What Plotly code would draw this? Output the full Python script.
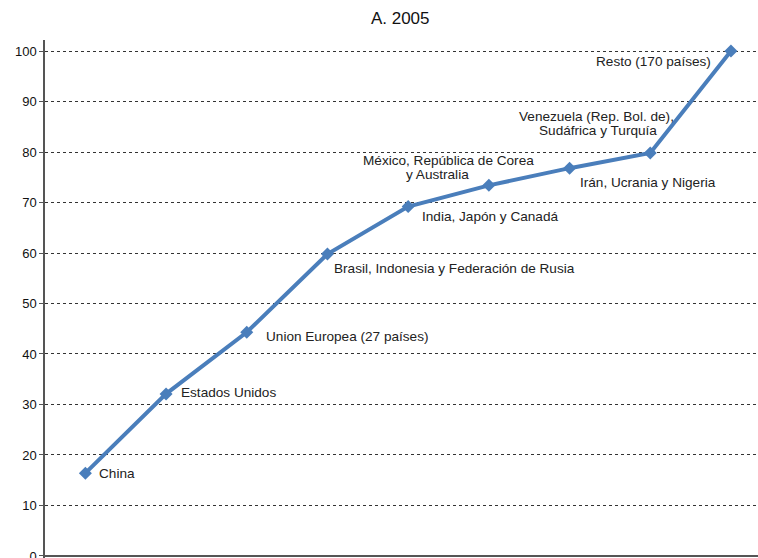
import plotly.graph_objects as go

categories = ["China", "Estados Unidos", "Union Europea (27 países)",
              "Brasil, Indonesia y Federación de Rusia", "India, Japón y Canadá",
              "México, República de Corea y Australia", "Irán, Ucrania y Nigeria",
              "Venezuela (Rep. Bol. de), Sudáfrica y Turquía", "Resto (170 países)"]
values = [16.4, 32.1, 44.3, 59.8, 69.2, 73.4, 76.8, 79.8, 100.0]
labels = ["China", "Estados Unidos", "Union Europea (27 países)",
          "Brasil, Indonesia y Federación de Rusia", "India, Japón y Canadá",
          "México, República de Corea<br>y Australia", "Irán, Ucrania y Nigeria",
          "Venezuela (Rep. Bol. de),<br>Sudáfrica y Turquía", "Resto (170 países)"]
y_ticks = [0, 10, 20, 30, 40, 50, 60, 70, 80, 90, 100]

# label placement per text line (anchor, pixel x offset, pixel y offset from the point)
label_pos = [
    [("left", 12, 0)], [("left", 13, 1)], [("left", 17, -4)], [("left", 5, -14)],
    [("left", 12, -10)], [("center", -40, 25), ("center", -51, 11)],
    [("left", 8, -14)], [("center", -54, 37), ("center", -52, 23)],
    [("right", -18, -10)],
]

FONT = "Liberation Sans, Arial, Helvetica, sans-serif"

fig = go.Figure()
fig.add_trace(go.Scatter(
    x=list(range(len(categories))), y=values, mode="lines+markers",
    line=dict(color="#4a7ebb", width=4),
    marker=dict(symbol="diamond", size=10, color="#4a7ebb"),
    cliponaxis=False, hoverinfo="skip",
))

for i, (lab, poss) in enumerate(zip(labels, label_pos)):
    for line, (anc, xs, ys) in zip(lab.split("<br>"), poss):
        fig.add_annotation(x=i, y=values[i], text=line, showarrow=False,
                           xanchor=anc, yanchor="middle", xshift=xs, yshift=ys,
                           align="center", font=dict(family=FONT, size=13.6, color="#222"))

fig.update_layout(
    width=758, height=558,
    margin=dict(l=45, r=0, t=40, b=0, autoexpand=False),
    paper_bgcolor="white", plot_bgcolor="white",
    showlegend=False,
    title=dict(text="A. 2005", x=0.528, xanchor="center", y=0.968, yanchor="middle",
               font=dict(family=FONT, size=17, color="#111")),
    xaxis=dict(range=[-0.5, 8.335], showgrid=False, showticklabels=False,
               zeroline=False, showline=False, ticks="", automargin=False),
    yaxis=dict(range=[-0.4, 102.18], tickvals=y_ticks, showgrid=True,
               gridcolor="#333", griddash="3px,3px", gridwidth=1,
               zeroline=True, zerolinecolor="#555", zerolinewidth=1.5,
               showline=True, linecolor="#555", linewidth=1.5,
               ticks="outside", ticklen=4, tickcolor="#555",
               ticklabeloverflow="allow", automargin=False,
               tickfont=dict(family=FONT, size=13, color="#111")),
)

fig.write_html("out.html", config={"displayModeBar": False},
               post_script="document.body.style.margin='0';document.body.style.overflow='hidden';")
